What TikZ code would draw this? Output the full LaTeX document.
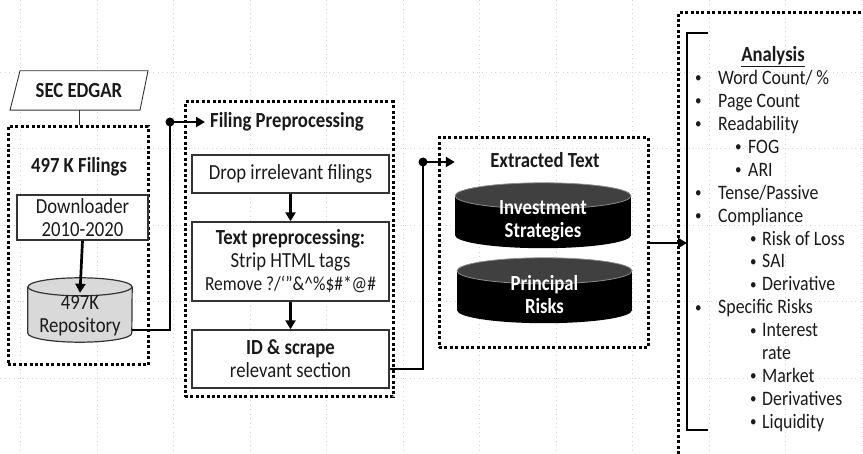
\documentclass[tikz,border=0pt]{standalone}
\usepackage{fontspec}
\setmainfont{Carlito}[FakeStretch=0.87]
\usetikzlibrary{arrows.meta}
\definecolor{txt}{HTML}{1A1A1A}
\definecolor{edgec}{HTML}{333333}
\definecolor{repofill}{HTML}{D9D9D9}
\definecolor{cyltop}{HTML}{404040}
\definecolor{cylrim}{HTML}{8C8C8C}
\definecolor{gridc}{HTML}{D4D4D4}
\newcommand\fsmain{\fontsize{21.5}{23}\selectfont}
\newcommand\fslist{\fontsize{20.5}{23}\selectfont}
\newcommand\bul{\raisebox{1.6pt}{\fontsize{15}{15}\selectfont •}}
\newcommand\bA[1]{\makebox[23pt][l]{\bul}#1}
\newcommand\bB[1]{\hspace*{40pt}\makebox[13pt][l]{\bul}#1}
\newcommand\bC[1]{\hspace*{55pt}\makebox[12pt][l]{\bul}#1}
\newcommand\bD[1]{\hspace*{67pt}#1}
\begin{document}
\begin{tikzpicture}[x=1pt,y=-1pt,
  every node/.style={inner sep=0pt, text=txt},
  gridline/.style={draw=gridc, line width=0.8pt, dash pattern=on 1pt off 3.5pt},
  dotbox/.style={draw=black, line width=3pt, dash pattern=on 3pt off 2.4pt},
  procbox/.style={draw=edgec, line width=1.4pt, fill=white, align=center, font=\fsmain},
  conn/.style={draw=black, line width=2.7pt},
  arr/.style={draw=black, line width=2.7pt, -{Triangle[length=9pt,width=10pt]}},
  thinline/.style={draw=edgec, line width=0.9pt},
  cylline/.style={draw=edgec, line width=1.2pt},
  li/.style={anchor=base west, font=\fslist, inner sep=0pt},
  title/.style={font=\fsmain\bfseries}]
\useasboundingbox (0,0) rectangle (863,454);
% faint background grid
\foreach \gx in {20,97,173,250,326,403,479,556,632,709,785,862}
  \draw[gridline] (\gx,0) -- (\gx,454);
\foreach \gy in {72,148,225,301,378}
  \draw[gridline] (0,\gy) -- (863,\gy);

% ---------- group 1 ----------
\node[dotbox, minimum width=140pt, minimum height=238pt] (box1) at (78,246) {};
\node[title, minimum width=130pt, minimum height=39pt] (sec) at (79,90.5) {SEC EDGAR};
\draw[thinline, fill=white] ([xshift=-59pt]sec.north) -- ([xshift=69pt]sec.north)
  -- ([xshift=61pt]sec.south) -- ([xshift=-69pt]sec.south) -- cycle;
\node[title] at (sec) {SEC EDGAR};
\draw[thinline] (sec.south) -- (sec.south |- box1.north);
\node[title] (filings) at (79,167) {497 K Filings};
\node[procbox, minimum width=131pt, minimum height=45pt] (dl) at (82.5,217.5) {Downloader\\2010-2020};
\node[minimum width=104pt, minimum height=46pt] (repobody) at (80,310) {};
\fill[repofill] (repobody.north west) rectangle (repobody.south east);
\fill[repofill] (repobody.south) ellipse [x radius=52pt, y radius=9pt];
\draw[cylline] (repobody.north west) -- (repobody.south west)
  arc[start angle=180, end angle=360, x radius=52pt, y radius=9pt] -- (repobody.north east);
\draw[cylline, fill=repofill] (repobody.north) ellipse [x radius=52pt, y radius=9pt];
\node[font=\fsmain, align=center] (repo) at (80,316) {497K\\Repository};
\draw[arr] (dl.south) -- ([yshift=-6pt]repobody.north);

% ---------- group 2 ----------
\node[dotbox, minimum width=208pt, minimum height=295pt] (box2) at (289,249.5) {};
\coordinate (j1) at (170,122);
\node[title, anchor=west] (fp) at (210,122) {Filing Preprocessing};
\draw[conn] ([yshift=-20pt]repobody.east) -| (j1);
\draw[arr] (j1) -- ([xshift=-5pt]fp.west);
\fill (j1) circle (4.5pt);
\node[procbox, minimum width=197pt, minimum height=38pt] (drop) at (290.5,174) {Drop irrelevant filings};
\node[procbox, minimum width=197pt, minimum height=79pt] (tp) at (290.5,261.5)
  {\textbf{Text preprocessing:}\\Strip HTML tags\\{\fontsize{20}{22}\selectfont Remove ?/‘”\&\textasciicircum\%\$\#*@\#}};
\node[procbox, minimum width=197pt, minimum height=58pt] (id) at (290.5,359) {\textbf{ID \& scrape}\\relevant section};
\draw[arr] (drop) -- (tp);
\draw[arr] (tp) -- (id);

% ---------- group 3 ----------
\node[dotbox, minimum width=209pt, minimum height=210pt] (box3) at (543.5,243) {};
\node[title] (ext) at (545,160) {Extracted Text};
\node[minimum width=176pt, minimum height=39pt] (cyl1) at (543,215.5) {};
\fill[black] (cyl1.north west) rectangle (cyl1.south east);
\fill[black] (cyl1.south) ellipse [x radius=88pt, y radius=13pt];
\draw[draw=cylrim, line width=0.8pt, fill=cyltop] (cyl1.north) ellipse [x radius=88pt, y radius=13pt];
\node[font=\fsmain\bfseries, text=white, align=center] (inv) at (543,221) {Investment\\Strategies};
\node[minimum width=175pt, minimum height=39pt] (cyl2) at (544.5,290.5) {};
\fill[black] (cyl2.north west) rectangle (cyl2.south east);
\fill[black] (cyl2.south) ellipse [x radius=87.5pt, y radius=13pt];
\draw[draw=cylrim, line width=0.8pt, fill=cyltop] (cyl2.north) ellipse [x radius=87.5pt, y radius=13pt];
\node[font=\fsmain\bfseries, text=white, align=center] (pr) at (544.5,295) {Principal\\Risks};
\coordinate (j2) at (423,162);
\draw[conn] ([yshift=-10pt]id.east) -| (j2);
\draw[arr] (j2) -- (j2 -| cyl1.west);
\fill (j2) circle (4.5pt);

% ---------- group 4 ----------
\draw[dotbox] (678,454) -- (678,13) -- (863,13);
\coordinate (brk) at (687,243);
\draw[conn] (708,33) -- (687,33) -- (687,430) -- (708,430);
\draw[arr] (box3.east) -- (brk);
\node[title] (an) at (773,57) {\underline{Analysis}};
\foreach \txt [count=\i] in {
  {\bA{Word Count/ \%}},
  {\bA{Page Count}},
  {\bA{Readability}},
  {\bB{FOG}},
  {\bB{ARI}},
  {\bA{Tense/Passive}},
  {\bA{Compliance}},
  {\bC{Risk of Loss}},
  {\bC{SAI}},
  {\bC{Derivative}},
  {\bA{Specific Risks}},
  {\bC{Interest}},
  {\bD{rate}},
  {\bC{Market}},
  {\bC{Derivatives}},
  {\bC{Liquidity}}}
  \node[li] (li\i) at (695,{84.5+22.93*(\i-1)}) {\txt};
\end{tikzpicture}
\end{document}
